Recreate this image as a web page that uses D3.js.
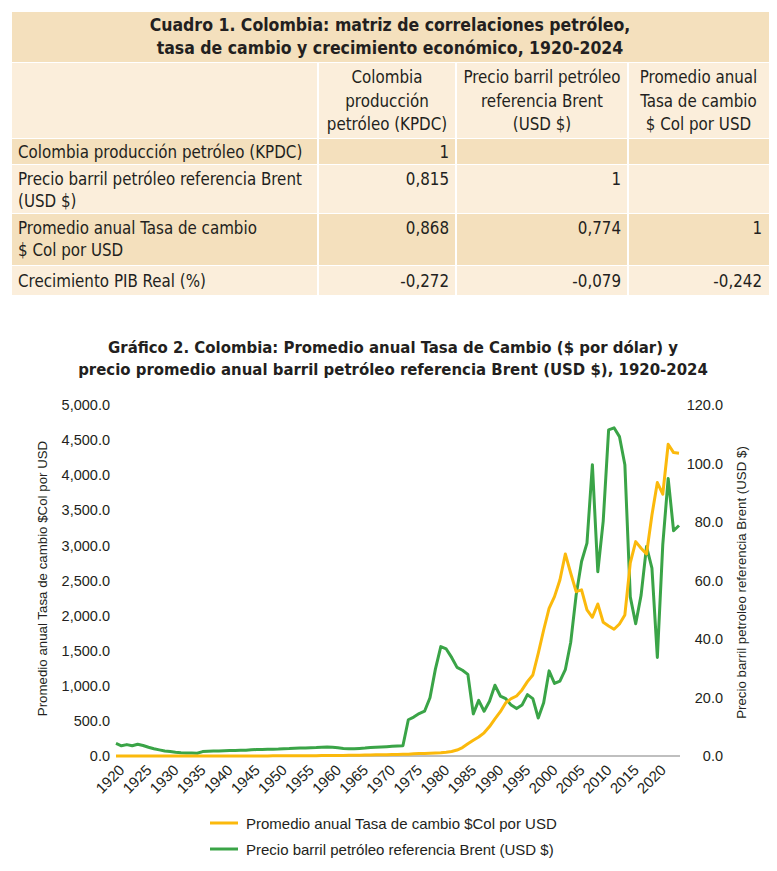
<!DOCTYPE html>
<html>
<head>
<meta charset="utf-8">
<script src="https://cdn.jsdelivr.net/npm/d3@7"></script>
<style>
  body { margin: 0; background: #fff; }
  svg { display: block; }
</style>
</head>
<body>
<div id="chart"></div>
<script>
// ---------------------------------- DATA ---------------------------------- //

let table_title = ['Cuadro 1. Colombia: matriz de correlaciones petróleo,', 'tasa de cambio y crecimiento económico, 1920-2024'];
let table_columns = [
  ['Colombia', 'producción', 'petróleo (KPDC)'],
  ['Precio barril petróleo', 'referencia Brent', '(USD $)'],
  ['Promedio anual', 'Tasa de cambio', '$ Col por USD']
];
let table_rows = [
  ['Colombia producción petróleo (KPDC)'],
  ['Precio barril petróleo referencia Brent', '(USD $)'],
  ['Promedio anual Tasa de cambio', '$ Col por USD'],
  ['Crecimiento PIB Real (%)']
];
let table_values = [
  ['1', '', ''],
  ['0,815', '1', ''],
  ['0,868', '0,774', '1'],
  ['-0,272', '-0,079', '-0,242']
];

let chart_title = ['Gráfico 2. Colombia: Promedio anual Tasa de Cambio ($ por dólar) y', 'precio promedio anual barril petróleo referencia Brent (USD $), 1920-2024'];
let years = d3.range(1920, 2025);
let tick_years = d3.range(1920, 2021, 5);
let left_ticks = [0, 500, 1000, 1500, 2000, 2500, 3000, 3500, 4000, 4500, 5000];
let right_ticks = [0, 20, 40, 60, 80, 100, 120];

// Promedio anual Tasa de cambio $Col por USD, 1920-2024
let exchange_rate = [
  1.0, 1.0, 1.0, 1.0, 1.0, 1.0, 1.0, 1.0, 1.0, 1.0,
  1.0, 1.0, 1.05, 1.2, 1.6, 1.75, 1.75, 1.75, 1.75, 1.75,
  1.75, 1.75, 1.75, 1.75, 1.75, 1.75, 1.75, 1.75, 1.76, 1.95,
  1.96, 2.5, 2.5, 2.5, 2.5, 2.5, 2.5, 5.0, 6.4, 6.4,
  6.6, 6.7, 6.9, 9.0, 9.0, 10.5, 13.5, 15.8, 16.9, 17.3,
  18.4, 19.9, 21.9, 23.6, 26.0, 30.9, 34.7, 36.8, 39.1, 42.5,
  47.3, 54.5, 64.1, 85, 120, 175, 225, 270, 330, 420,
  530, 631, 760, 817, 855, 941, 1059, 1154, 1463, 1795,
  2104, 2270, 2508, 2878, 2603, 2341, 2366, 2081, 1976, 2166,
  1905, 1853, 1805, 1881, 2009, 2750, 3054, 2960, 2878, 3434,
  3895, 3729, 4441, 4322, 4313
];

// Precio barril petróleo referencia Brent (USD $), 1920-2024
let brent_price = [
  4.3, 3.5, 3.9, 3.5, 4.0, 3.6, 3.0, 2.5, 2.1, 1.7,
  1.5, 1.3, 1.15, 1.05, 1.0, 0.95, 1.5, 1.65, 1.7, 1.75,
  1.8, 1.85, 1.9, 1.95, 2.0, 2.1, 2.2, 2.25, 2.3, 2.35,
  2.4, 2.5, 2.55, 2.65, 2.7, 2.75, 2.85, 2.9, 3.0, 3.1,
  3.0, 2.8, 2.6, 2.45, 2.5, 2.6, 2.7, 2.9, 3.0, 3.1,
  3.2, 3.3, 3.4, 3.5, 12.4, 13.3, 14.5, 15.3, 19.9, 29.7,
  37.4, 36.6, 33.7, 30.3, 29.3, 27.9, 14.4, 19.0, 15.3, 18.7,
  24.2, 20.5, 19.6, 17.4, 16.2, 17.4, 21.0, 19.6, 13.0, 18.2,
  29.1, 24.8, 25.6, 29.5, 38.9, 55.0, 66.5, 72.8, 99.6, 63.0,
  80.3, 111.5, 112.2, 109.2, 99.6, 54.4, 45.2, 55.0, 71.6, 64.2,
  33.7, 72.2, 94.9, 77.0, 78.8
];

let legend_items = [
  { label: 'Promedio anual Tasa de cambio $Col por USD', color: '#fbb90c' },
  { label: 'Precio barril petróleo referencia Brent (USD $)', color: '#3aa447' }
];

// ---------------------------------- SETTINGS ---------------------------------- //

let img_width = 777;
let img_height = 871;
let narrow_font = '"DejaVu Sans Condensed", "Liberation Sans Narrow", sans-serif';
let chart_font = '"Liberation Sans", Arial, sans-serif';
let text_color = '#231f20';
let band_dark = '#f4e0bd';
let band_light = '#fbeedb';
let cell_font_size = 16.8;

let table_left = 12;
let table_right = 769;
let col_edges = [12, 318, 456, 628, 769];
let row_edges = [139, 165, 214, 266, 296];

let plot_left = 116;
let plot_right = 679;
let plot_top = 405;
let plot_bottom = 756;

// ---------------------------------- CORE IMAGE ---------------------------------- //

let svg = d3.select('#chart')
  .append('svg')
  .attr('width', img_width)
  .attr('height', img_height);

svg.append('rect')
  .attr('width', img_width)
  .attr('height', img_height)
  .attr('fill', '#fff');

// ---------------------------------- TABLE ---------------------------------- //

let g_table = svg.append('g').attr('id', 'g_table');

g_table.append('rect')
  .attr('x', table_left).attr('y', 12)
  .attr('width', table_right - table_left).attr('height', 50)
  .attr('fill', band_dark);

g_table.selectAll('.table_title')
  .data(table_title)
  .enter()
  .append('text')
  .attr('x', 390)
  .attr('y', (d, i) => 31 + i * 23)
  .attr('text-anchor', 'middle')
  .attr('font-family', narrow_font)
  .attr('font-weight', 'bold')
  .attr('font-size', 17.5)
  .attr('fill', text_color)
  .text(d => d);

// header cells
for (let c = 0; c < 4; c++) {
  g_table.append('rect')
    .attr('x', col_edges[c] + (c > 0 ? 1 : 0)).attr('y', 63)
    .attr('width', col_edges[c + 1] - col_edges[c] - (c > 0 ? 1 : 0) - (c < 3 ? 1 : 0))
    .attr('height', row_edges[0] - 63 - 1)
    .attr('fill', band_light);
}

table_columns.forEach((lines, c) => {
  let cx = (col_edges[c + 1] + col_edges[c + 2]) / 2;
  g_table.selectAll(`.col_head_${c}`)
    .data(lines)
    .enter()
    .append('text')
    .attr('x', cx)
    .attr('y', (d, i) => 83 + i * 23.5)
    .attr('text-anchor', 'middle')
    .attr('font-family', narrow_font)
    .attr('font-size', cell_font_size)
    .attr('fill', text_color)
    .text(d => d);
});

// body rows
table_rows.forEach((lines, r) => {
  let top = row_edges[r];
  let bottom = row_edges[r + 1];
  for (let c = 0; c < 4; c++) {
    g_table.append('rect')
      .attr('x', col_edges[c] + (c > 0 ? 1 : 0)).attr('y', top)
      .attr('width', col_edges[c + 1] - col_edges[c] - (c > 0 ? 1 : 0) - (c < 3 ? 1 : 0))
      .attr('height', bottom - top - 1)
      .attr('fill', r % 2 === 0 ? band_dark : band_light);
  }
  let first = lines.length === 1 ? (top + bottom) / 2 + 6 : top + 20;
  g_table.selectAll(`.row_label_${r}`)
    .data(lines)
    .enter()
    .append('text')
    .attr('x', 18)
    .attr('y', (d, i) => first + i * 22)
    .attr('font-family', narrow_font)
    .attr('font-size', cell_font_size)
    .attr('fill', text_color)
    .text(d => d);
  table_values[r].forEach((v, c) => {
    g_table.append('text')
      .attr('x', col_edges[c + 2] - 7)
      .attr('y', first)
      .attr('text-anchor', 'end')
      .attr('font-family', narrow_font)
      .attr('font-size', cell_font_size)
      .attr('fill', text_color)
      .text(v);
  });
});

// ---------------------------------- CHART ---------------------------------- //

svg.selectAll('.chart_title')
  .data(chart_title)
  .enter()
  .append('text')
  .attr('x', 393)
  .attr('y', (d, i) => 353 + i * 22)
  .attr('text-anchor', 'middle')
  .attr('font-family', narrow_font)
  .attr('font-weight', 'bold')
  .attr('font-size', 16.6)
  .attr('fill', text_color)
  .text(d => d);

let x = d3.scaleLinear().domain([1920, 2024]).range([plot_left, plot_right]);
let y_left = d3.scaleLinear().domain([0, 5000]).range([plot_bottom, plot_top]);
let y_right = d3.scaleLinear().domain([0, 120]).range([plot_bottom, plot_top]);

let fmt = d3.format(',.1f');

// left axis labels
svg.append('g')
  .attr('transform', `translate(${plot_left - 6},0)`)
  .call(d3.axisLeft(y_left).tickValues(left_ticks).tickFormat(fmt).tickSize(0).tickPadding(0))
  .call(g => g.select('.domain').remove())
  .selectAll('text')
  .attr('font-family', chart_font)
  .attr('font-size', 14.5)
  .attr('fill', text_color);

// right axis labels
svg.append('g')
  .attr('transform', `translate(723,0)`)
  .call(d3.axisLeft(y_right).tickValues(right_ticks).tickFormat(fmt).tickSize(0).tickPadding(0))
  .call(g => g.select('.domain').remove())
  .selectAll('text')
  .attr('font-family', chart_font)
  .attr('font-size', 14.5)
  .attr('fill', text_color);

// x axis
let x_axis = svg.append('g')
  .attr('transform', `translate(0,${plot_bottom})`)
  .call(d3.axisBottom(x).tickValues(tick_years).tickFormat(d3.format('d')).tickSize(0).tickPadding(0));
x_axis.select('.domain')
  .attr('d', `M${plot_left},0H${plot_right + 1}`)
  .attr('stroke', '#808080')
  .attr('stroke-width', 1.2);
x_axis.selectAll('text')
  .attr('font-family', chart_font)
  .attr('font-size', 15)
  .attr('fill', text_color)
  .attr('text-anchor', 'end')
  .attr('dy', 0)
  .attr('transform', 'translate(9,15) rotate(-45)');

// axis titles
svg.append('text')
  .attr('transform', `translate(47,${(plot_top + plot_bottom) / 2 - 2}) rotate(-90)`)
  .attr('text-anchor', 'middle')
  .attr('font-family', chart_font)
  .attr('font-size', 13.3)
  .attr('fill', text_color)
  .text('Promedio anual Tasa de cambio $Col por USD');

svg.append('text')
  .attr('transform', `translate(746,${(plot_top + plot_bottom) / 2 + 2}) rotate(-90)`)
  .attr('text-anchor', 'middle')
  .attr('font-family', chart_font)
  .attr('font-size', 13.3)
  .attr('fill', text_color)
  .text('Precio barril petroleo referencia Brent (USD $)');

// lines
let line_left = d3.line().x((d, i) => x(years[i])).y(d => y_left(d));
let line_right = d3.line().x((d, i) => x(years[i])).y(d => y_right(d));

svg.append('path')
  .datum(brent_price)
  .attr('d', line_right)
  .attr('fill', 'none')
  .attr('stroke', legend_items[1].color)
  .attr('stroke-width', 3)
  .attr('stroke-linejoin', 'round');

svg.append('path')
  .datum(exchange_rate)
  .attr('d', line_left)
  .attr('fill', 'none')
  .attr('stroke', legend_items[0].color)
  .attr('stroke-width', 3)
  .attr('stroke-linejoin', 'round');

// ---------------------------------- LEGEND ---------------------------------- //

let legend = svg.selectAll('.legend')
  .data(legend_items)
  .enter()
  .append('g')
  .attr('transform', (d, i) => `translate(210,${823 + i * 26})`);

legend.append('line')
  .attr('x1', 0).attr('x2', 28)
  .attr('stroke', d => d.color)
  .attr('stroke-width', 3);

legend.append('text')
  .attr('x', 36)
  .attr('y', 5.5)
  .attr('font-family', chart_font)
  .attr('font-size', 15)
  .attr('fill', text_color)
  .text(d => d.label);
</script>
</body>
</html>
